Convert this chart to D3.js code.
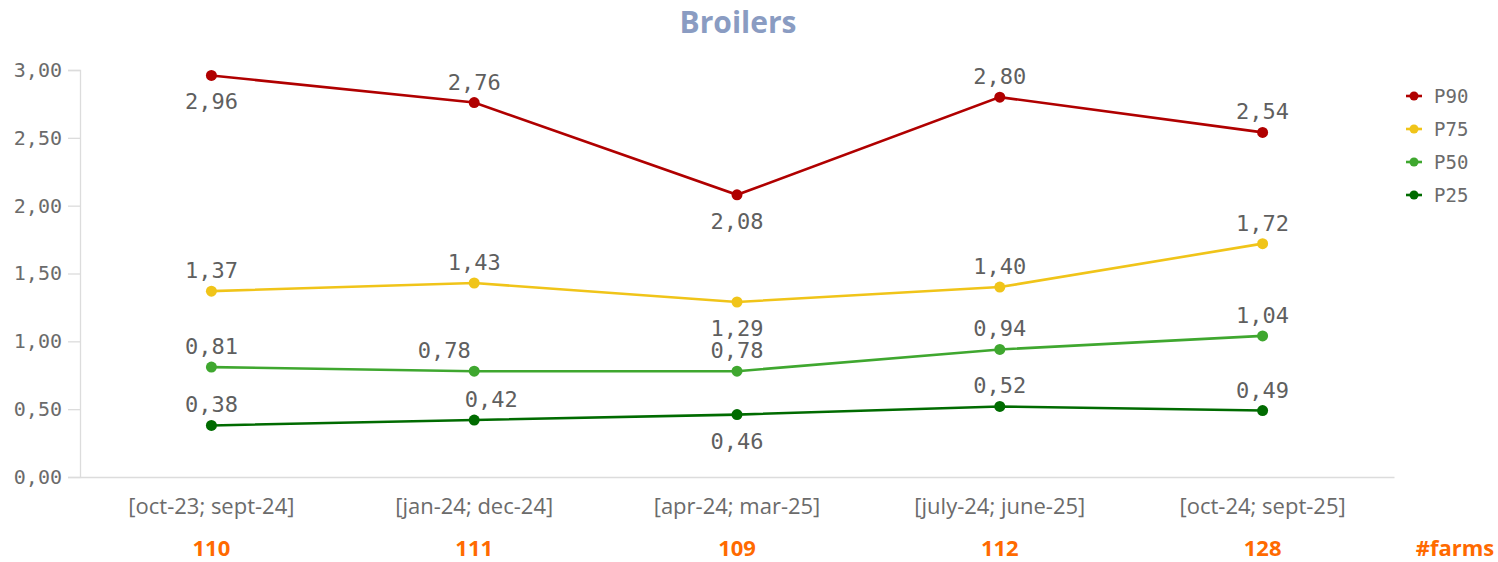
<!DOCTYPE html>
<html>
<head>
<meta charset="utf-8">
<script src="https://cdn.jsdelivr.net/npm/d3@7"></script>
<style>
  html, body { margin: 0; padding: 0; background: #fff; }
  svg { display: block; }
</style>
</head>
<body>
<svg id="chart" width="1498" height="562"></svg>
<script>
// Rolling 12-month periods
const categories = ["[oct-23; sept-24]", "[jan-24; dec-24]", "[apr-24; mar-25]", "[july-24; june-25]", "[oct-24; sept-25]"];
const farms = [110, 111, 109, 112, 128];

const p90 = [2.96, 2.76, 2.08, 2.80, 2.54];
const p75 = [1.37, 1.43, 1.29, 1.40, 1.72];
const p50 = [0.81, 0.78, 0.78, 0.94, 1.04];
const p25 = [0.38, 0.42, 0.46, 0.52, 0.49];

const seriesNames = ["P90", "P75", "P50", "P25"];
const yTicks = [0, 0.5, 1, 1.5, 2, 2.5, 3];

// label placement per point: "a" = above, "b" = below
const placement = {
  P90: ["b", "a", "b", "a", "a"],
  P75: ["a", "a", "b", "a", "a"],
  P50: ["a", "a", "a", "a", "a"],
  P25: ["a", "a", "b", "a", "a"]
};
// horizontal nudges to keep overlapping labels apart
const nudge = {
  P50: [0, -30, 0, 0, 0],
  P25: [0, 17, 0, 0, 0]
};

const colors = { P90: "#b00000", P75: "#f0c419", P50: "#3fa72f", P25: "#006b00" };
const values = { P90: p90, P75: p75, P50: p50, P25: p25 };

const svg = d3.select("#chart");
const fmt = v => d3.format(".2f")(v).replace(".", ",");

const x = d3.scaleBand().domain(categories).range([80, 1394]);
const y = d3.scaleLinear().domain([0, 3]).range([477, 70]);
const cx = c => x(c) + x.bandwidth() / 2;

// Title
svg.append("text")
  .attr("x", 738).attr("y", 33)
  .attr("text-anchor", "middle")
  .attr("font-family", "Open Sans, sans-serif")
  .attr("font-weight", "bold")
  .attr("font-size", 30)
  .attr("fill", "#8a9cc2")
  .text("Broilers");

// Y axis
const yAxis = svg.append("g")
  .attr("transform", "translate(80,0)")
  .call(d3.axisLeft(y).tickValues(yTicks).tickSize(12).tickPadding(6).tickFormat(fmt));
yAxis.select(".domain").attr("stroke", "#dcdcdc").attr("stroke-width", 1.3);
yAxis.selectAll(".tick line").attr("stroke", "#dcdcdc").attr("stroke-width", 1.3);
yAxis.selectAll(".tick text")
  .attr("font-family", "DejaVu Sans Mono, monospace")
  .attr("font-size", 20)
  .attr("fill", "#6b6b6b");

// X axis
const xAxis = svg.append("g")
  .attr("transform", "translate(0,477)")
  .call(d3.axisBottom(x).tickSize(0).tickPadding(21));
xAxis.select(".domain").attr("stroke", "#dcdcdc").attr("stroke-width", 1.3);
xAxis.selectAll(".tick text")
  .attr("font-family", "Open Sans, sans-serif")
  .attr("font-size", 22)
  .attr("fill", "#6b6b6b");

// Farm counts
svg.append("g").selectAll("text")
  .data(farms)
  .join("text")
  .attr("x", (d, i) => cx(categories[i]))
  .attr("y", 556)
  .attr("text-anchor", "middle")
  .attr("font-family", "Open Sans, sans-serif")
  .attr("font-weight", "bold")
  .attr("font-size", 22)
  .attr("fill", "#ff6a00")
  .text(d => d);

svg.append("text")
  .attr("x", 1455).attr("y", 556)
  .attr("text-anchor", "middle")
  .attr("font-family", "Open Sans, sans-serif")
  .attr("font-weight", "bold")
  .attr("font-size", 22)
  .attr("fill", "#ff6a00")
  .text("#farms");

// Lines, points and labels
const line = d3.line().x((d, i) => cx(categories[i])).y(d => y(d));

seriesNames.slice().reverse().forEach(name => {
  const vals = values[name];
  const g = svg.append("g");
  g.append("path")
    .datum(vals)
    .attr("d", line)
    .attr("fill", "none")
    .attr("stroke", colors[name])
    .attr("stroke-width", 2.6);
  g.selectAll("circle")
    .data(vals)
    .join("circle")
    .attr("cx", (d, i) => cx(categories[i]))
    .attr("cy", d => y(d))
    .attr("r", 5.5)
    .attr("fill", colors[name]);
});

seriesNames.forEach(name => {
  const vals = values[name];
  svg.append("g").selectAll("text")
    .data(vals)
    .join("text")
    .attr("x", (d, i) => cx(categories[i]) + ((nudge[name] || [])[i] || 0))
    .attr("y", (d, i) => placement[name][i] === "a" ? y(d) - 13 : y(d) + 34)
    .attr("text-anchor", "middle")
    .attr("font-family", "DejaVu Sans Mono, monospace")
    .attr("font-size", 22)
    .attr("fill", "#5f5f5f")
    .text(d => fmt(d));
});

// Legend
const legend = svg.append("g").attr("transform", "translate(1406,96)");
seriesNames.forEach((name, i) => {
  const row = legend.append("g").attr("transform", `translate(0,${i * 33})`);
  row.append("line").attr("x1", 0).attr("x2", 16).attr("y1", 0).attr("y2", 0)
    .attr("stroke", colors[name]).attr("stroke-width", 2.6);
  row.append("circle").attr("cx", 8).attr("cy", 0).attr("r", 4.5).attr("fill", colors[name]);
  row.append("text").attr("x", 28).attr("y", 7)
    .attr("font-family", "DejaVu Sans Mono, monospace")
    .attr("font-size", 19)
    .attr("fill", "#6b6b6b")
    .text(name);
});
</script>
</body>
</html>
